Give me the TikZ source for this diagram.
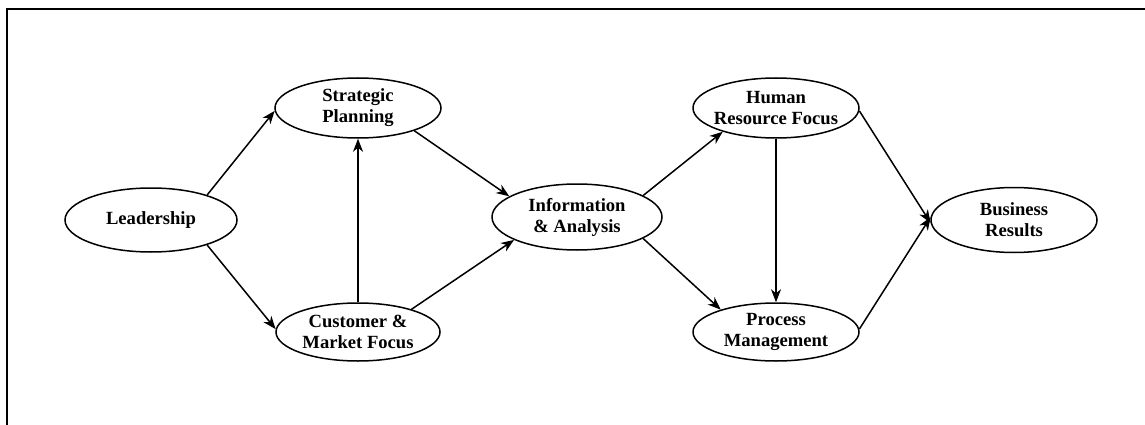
\documentclass[tikz,border=0pt]{standalone}
\usepackage{fontspec}
\setmainfont{Liberation Serif}
\usetikzlibrary{arrows.meta,shapes.geometric}
\begin{document}
\begin{tikzpicture}[x=1pt,y=-1pt,
  oval/.style={draw,ellipse,line width=1.5pt,inner sep=0pt},
  lbl/.style={align=center,inner sep=0pt,font=\fontsize{18.6}{21}\selectfont\bfseries},
  flow/.style={line width=1.5pt,-{Stealth[length=13pt,width=10pt,inset=4pt]}}]
\useasboundingbox (0,0) rectangle (1145,425);
% frame
\draw[line width=2.2pt] (7,425) -- (7,9) -- (1145,9);

% ovals
\node[oval,minimum width=172pt,minimum height=64pt] (lead) at (151,220) {};
\node[oval,minimum width=166pt,minimum height=60pt] (strat) at (358,108) {};
\node[oval,minimum width=164pt,minimum height=58pt] (cust) at (358,332) {};
\node[oval,minimum width=170pt,minimum height=66pt] (info) at (577,217) {};
\node[oval,minimum width=166pt,minimum height=60pt] (hr) at (776,108) {};
\node[oval,minimum width=166pt,minimum height=58pt] (proc) at (776,332) {};
\node[oval,minimum width=166pt,minimum height=65pt] (biz) at (1014,220) {};

% texts
\node[lbl] (leadT) at (lead) {Leadership};
\node[lbl] (stratT) at (strat) {Strategic\\Planning};
\node[lbl] (custT) at (cust) {Customer \&\\Market Focus};
\node[lbl] (infoT) at (info) {Information\\\& Analysis};
\node[lbl] (hrT) at (hr) {Human\\Resource Focus};
\node[lbl] (procT) at (proc) {Process\\Management};
\node[lbl] (bizT) at (biz) {Business\\Results};

% connectors
\draw[flow] (lead.24) -- (strat.182);
\draw[flow] (lead.-24) -- (cust.178);
\draw[flow] (cust.north) -- (strat.south);
\draw[flow] (strat.-22) -- (info.163);
\draw[flow] (cust.23) -- (info.200);
\draw[flow] (info.18) -- (hr.204);
\draw[flow] (info.-18) -- (proc.158);
\draw[flow] (hr.south) -- (proc.north);
\draw[flow] (hr.-2) -- (biz.182);
\draw[flow] (proc.2) -- (biz.178);
\end{tikzpicture}
\end{document}
